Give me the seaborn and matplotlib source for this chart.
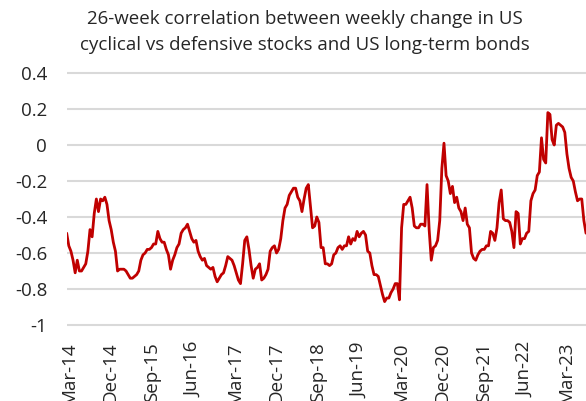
import pandas as pd
import numpy as np
import seaborn as sns
import matplotlib.pyplot as plt

# 26-week correlation at 2-week steps
corr = [
    -0.49, -0.56, -0.59, -0.64, -0.71, -0.64, -0.70, -0.70, -0.68, -0.66,
    -0.59, -0.47, -0.51, -0.38, -0.30, -0.37, -0.30, -0.31, -0.29, -0.33,
    -0.42, -0.47, -0.54, -0.59, -0.70, -0.69, -0.69, -0.69, -0.70, -0.72,
    -0.74, -0.74, -0.73, -0.72, -0.70, -0.64, -0.61, -0.60, -0.58, -0.58,
    -0.57, -0.55, -0.55, -0.48, -0.52, -0.54, -0.54, -0.58, -0.61, -0.69,
    -0.64, -0.61, -0.57, -0.55, -0.49, -0.47, -0.46, -0.44, -0.48, -0.52,
    -0.54, -0.53, -0.59, -0.62, -0.64, -0.63, -0.67, -0.68, -0.69, -0.68,
    -0.73, -0.76, -0.74, -0.72, -0.71, -0.67, -0.62, -0.63, -0.64, -0.67,
    -0.71, -0.75, -0.77, -0.66, -0.53, -0.51, -0.58, -0.67, -0.74, -0.69,
    -0.68, -0.66, -0.75, -0.74, -0.72, -0.69, -0.59, -0.57, -0.56, -0.60,
    -0.58, -0.52, -0.42, -0.35, -0.33, -0.28, -0.26, -0.24, -0.24, -0.29,
    -0.31, -0.37, -0.30, -0.24, -0.22, -0.34, -0.46, -0.45, -0.40, -0.43,
    -0.57, -0.57, -0.66, -0.66, -0.67, -0.66, -0.61, -0.60, -0.57, -0.56,
    -0.58, -0.56, -0.56, -0.51, -0.55, -0.52, -0.53, -0.48, -0.51, -0.49,
    -0.48, -0.50, -0.59, -0.60, -0.67, -0.72, -0.72, -0.73, -0.78, -0.83,
    -0.87, -0.85, -0.85, -0.82, -0.80, -0.77, -0.77, -0.86, -0.46, -0.33,
    -0.33, -0.31, -0.29, -0.35, -0.45, -0.46, -0.46, -0.44, -0.44, -0.45,
    -0.22, -0.47, -0.64, -0.57, -0.56, -0.53, -0.42, -0.13, 0.01, -0.17,
    -0.20, -0.27, -0.23, -0.32, -0.29, -0.35, -0.37, -0.42, -0.35, -0.44,
    -0.46, -0.60, -0.63, -0.64, -0.61, -0.59, -0.58, -0.58, -0.56, -0.56,
    -0.48, -0.49, -0.53, -0.46, -0.32, -0.25, -0.41, -0.42, -0.42, -0.43,
    -0.48, -0.57, -0.37, -0.38, -0.55, -0.52, -0.52, -0.49, -0.48, -0.31,
    -0.27, -0.25, -0.17, -0.15, 0.04, -0.08, -0.10, 0.18, 0.17, 0.03,
    0.00, 0.11, 0.12, 0.11, 0.10, 0.07, -0.05, -0.13, -0.18, -0.20,
    -0.26, -0.31, -0.30, -0.30, -0.42, -0.49,
]
start_date = '2014-02-14'

tick_labels = ['Mar-14', 'Dec-14', 'Sep-15', 'Jun-16', 'Mar-17', 'Dec-17', 'Sep-18',
               'Jun-19', 'Mar-20', 'Dec-20', 'Sep-21', 'Jun-22', 'Mar-23']
y_ticks = [-1, -0.8, -0.6, -0.4, -0.2, 0, 0.2, 0.4]
title_lines = ['26-week correlation between weekly change in US',
               'cyclical vs defensive stocks and US long-term bonds']

df = pd.DataFrame({'date': pd.date_range(start_date, periods=len(corr), freq='14D'),
                   'corr': corr})
tick_dates = pd.to_datetime(['01-' + t for t in tick_labels], format='%d-%b-%y')

sns.set_theme(style='white')
plt.rcParams['font.family'] = ['Open Sans', 'DejaVu Sans']
text_col = '#262626'

fig = plt.figure(figsize=(5.86, 4.01), dpi=100)
ax = fig.add_axes([0.1138, 0.185, 0.8862, 0.6375])

sns.lineplot(data=df, x='date', y='corr', color='#C00000', linewidth=2, ax=ax)

ax.set_xlim(df['date'].iloc[0], df['date'].iloc[-1])
ax.set_ylim(-1.01, 0.41)
ax.set_yticks(y_ticks)
ax.set_yticklabels([f'{v:g}' for v in y_ticks])
ax.set_xticks(tick_dates)
ax.set_xticklabels(tick_labels, rotation=90)
ax.set_xlabel('')
ax.set_ylabel('')

ax.yaxis.grid(True, color='#d9d9d9', linewidth=1.5)
ax.xaxis.grid(False)
ax.set_axisbelow(True)
for s in ax.spines.values():
    s.set_visible(False)
ax.tick_params(axis='y', length=0, pad=14, labelsize=13.5, labelcolor=text_col)
ax.tick_params(axis='x', length=0, pad=11, labelsize=13.5, labelcolor=text_col)

fig.text(0.52, 0.953, title_lines[0], ha='center', va='center', fontsize=13.5, color=text_col)
fig.text(0.52, 0.888, title_lines[1], ha='center', va='center', fontsize=13.5, color=text_col)

fig.savefig('out.png', dpi=100)
